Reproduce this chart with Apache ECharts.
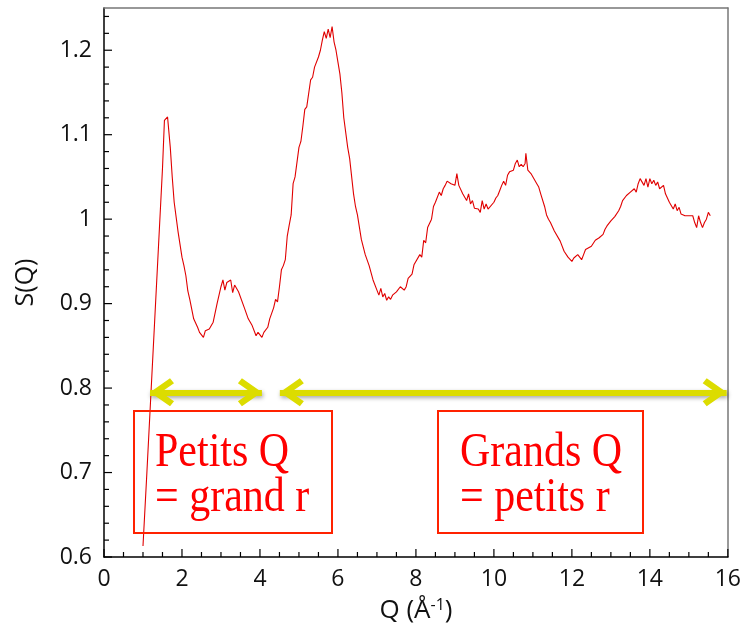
<!DOCTYPE html>
<html>
<head>
<meta charset="utf-8">
<script src="https://cdn.jsdelivr.net/npm/echarts@6/dist/echarts.min.js"></script>
<style>
  html, body { margin: 0; padding: 0; background: #fff; }
  #main { width: 744px; height: 629px; }
</style>
</head>
<body>
<div id="main"></div>
<script>
// S(Q), [Q, S]
var sq = [
  [1.00,0.613],[1.10,0.70],[1.20,0.79],[1.30,0.88],[1.40,0.97],[1.50,1.06],[1.55,1.117],[1.60,1.115],
  [1.63,1.121],[1.70,1.085],[1.75,1.05],[1.80,1.02],[1.90,0.985],[2.00,0.955],[2.05,0.945],[2.10,0.933],
  [2.15,0.915],[2.20,0.905],[2.30,0.882],[2.35,0.880],[2.40,0.872],[2.45,0.866],[2.50,0.866],[2.55,0.860],
  [2.60,0.868],[2.65,0.866],[2.70,0.870],[2.80,0.878],[2.85,0.880],[2.90,0.900],[3.00,0.920],[3.05,0.928],
  [3.10,0.916],[3.15,0.925],[3.20,0.926],[3.25,0.928],[3.30,0.913],[3.35,0.922],[3.40,0.920],[3.45,0.914],
  [3.50,0.916],[3.60,0.895],[3.70,0.882],[3.75,0.880],[3.80,0.874],[3.85,0.876],[3.90,0.862],[3.95,0.866],
  [4.00,0.864],[4.05,0.860],[4.10,0.866],[4.20,0.872],[4.25,0.882],[4.30,0.880],[4.35,0.895],[4.40,0.905],
  [4.45,0.902],[4.50,0.920],[4.55,0.940],[4.60,0.945],[4.65,0.952],[4.70,0.980],[4.75,0.993],[4.80,1.005],
  [4.85,1.042],[4.90,1.050],[5.00,1.085],[5.05,1.092],[5.10,1.110],[5.15,1.130],[5.20,1.133],[5.30,1.165],
  [5.35,1.168],[5.40,1.180],[5.50,1.192],[5.55,1.200],[5.60,1.212],[5.65,1.222],[5.70,1.214],[5.75,1.225],
  [5.80,1.215],[5.85,1.228],[5.90,1.210],[5.95,1.200],[6.00,1.186],[6.05,1.172],[6.10,1.150],[6.15,1.120],
  [6.20,1.122],[6.25,1.085],[6.30,1.072],[6.40,1.030],[6.45,1.015],[6.50,1.005],[6.60,0.976],[6.70,0.958],
  [6.80,0.945],[6.90,0.928],[7.00,0.916],[7.05,0.910],[7.10,0.918],[7.15,0.908],[7.20,0.912],[7.25,0.904],
  [7.30,0.908],[7.35,0.905],[7.40,0.910],[7.45,0.908],[7.50,0.914],[7.55,0.912],[7.60,0.920],[7.65,0.922],
  [7.70,0.916],[7.75,0.920],[7.80,0.930],[7.85,0.932],[7.90,0.935],[7.95,0.946],[8.00,0.944],[8.10,0.958],
  [8.15,0.955],[8.20,0.975],[8.25,0.972],[8.30,0.990],[8.40,1.000],[8.45,1.015],[8.50,1.020],[8.55,1.018],
  [8.60,1.032],[8.65,1.028],[8.70,1.036],[8.75,1.040],[8.80,1.045],[8.90,1.042],[9.00,1.040],[9.05,1.054],
  [9.10,1.040],[9.20,1.030],[9.30,1.022],[9.35,1.030],[9.40,1.018],[9.45,1.022],[9.50,1.013],[9.55,1.015],
  [9.60,1.012],[9.65,1.008],[9.70,1.022],[9.75,1.012],[9.80,1.018],[9.85,1.012],[9.90,1.014],[10.00,1.020],
  [10.05,1.025],[10.10,1.028],[10.15,1.034],[10.20,1.040],[10.25,1.045],[10.30,1.040],[10.35,1.052],[10.40,1.056],
  [10.45,1.054],[10.50,1.058],[10.55,1.066],[10.60,1.070],[10.65,1.062],[10.70,1.065],[10.75,1.062],[10.80,1.066],
  [10.82,1.078],[10.87,1.058],[10.95,1.054],[11.00,1.052],[11.10,1.042],[11.15,1.038],[11.20,1.030],[11.25,1.028],
  [11.30,1.015],[11.35,1.005],[11.40,1.000],[11.45,0.996],[11.50,0.994],[11.55,0.986],[11.60,0.984],[11.70,0.974],
  [11.80,0.962],[11.85,0.960],[11.90,0.955],[11.95,0.956],[12.00,0.950],[12.05,0.954],[12.10,0.956],[12.15,0.958],
  [12.20,0.955],[12.25,0.952],[12.30,0.958],[12.35,0.964],[12.40,0.962],[12.50,0.968],[12.55,0.970],[12.60,0.975],
  [12.65,0.973],[12.70,0.978],[12.80,0.982],[12.85,0.988],[12.90,0.992],[13.00,0.998],[13.10,1.003],[13.15,1.005],
  [13.20,1.010],[13.25,1.015],[13.30,1.022],[13.35,1.020],[13.40,1.028],[13.50,1.032],[13.55,1.034],[13.60,1.036],
  [13.65,1.032],[13.70,1.042],[13.75,1.048],[13.80,1.050],[13.85,1.040],[13.90,1.048],[13.95,1.038],[14.00,1.048],
  [14.05,1.042],[14.10,1.046],[14.15,1.040],[14.20,1.044],[14.25,1.036],[14.30,1.034],[14.35,1.040],[14.40,1.030],
  [14.45,1.028],[14.50,1.020],[14.55,1.022],[14.60,1.012],[14.65,1.018],[14.70,1.010],[14.75,1.014],[14.80,1.006],
  [14.85,1.008],[14.90,1.004],[15.00,1.004],[15.05,1.002],[15.10,1.004],[15.15,0.996],[15.20,0.990],[15.25,1.004],
  [15.30,0.996],[15.35,0.990],[15.40,0.996],[15.45,1.000],[15.50,1.008],[15.55,1.004]
];

// tick positions along each axis (majors are every 2 on Q, every 0.1 on S)
var qTicks = [0,0.5,1,1.5,2,2.5,3,3.5,4,4.5,5,5.5,6,6.5,7,7.5,8,8.5,9,9.5,10,10.5,11,11.5,12,12.5,13,13.5,14,14.5,15,15.5,16];
var sTicks = [0.60,0.62,0.64,0.66,0.68,0.70,0.72,0.74,0.76,0.78,0.80,0.82,0.84,0.86,0.88,0.90,0.92,0.94,0.96,0.98,
              1.00,1.02,1.04,1.06,1.08,1.10,1.12,1.14,1.16,1.18,1.20,1.22,1.24];

// yellow double arrows: [Q start, Q end] at S = arrowY
var arrowY = 0.795;
var arrowSpans = [[1.18, 4.05], [4.51, 15.97]];

var boxTexts = [['Petits Q', '= grand r'], ['Grands Q', '= petits r']];

// open chevron, apex at the centre of its box so it sits on the line end
var chevron = 'path://M0,0 L14,20 L9,24 L0,11 L-9,24 L-14,20 Z M-0.1,-24 L0.1,-24 L0,-23.9 Z';

var chart = echarts.init(document.getElementById('main'));

var axisFont = { fontFamily: 'Open Sans', fontSize: 23, color: '#111' };
var serif = '42px "Liberation Serif"';

function isMajor(v, step) { return Math.abs(v / step - Math.round(v / step)) < 1e-6; }

function boxLine(x, y, txt) {
  return { type: 'text', x: x, y: y, scaleY: 1.15, z: 20,
    style: { text: txt, font: serif, fill: '#ff0000', verticalAlign: 'middle' } };
}

// plain grey frame line for the top and right sides
function frameAxis(extra) {
  return Object.assign({
    type: 'value',
    axisLine: { show: true, onZero: false, lineStyle: { color: '#777', width: 1.5 } },
    axisTick: { show: false }, axisLabel: { show: false }, splitLine: { show: false }
  }, extra);
}

var option = {
  animation: false,
  grid: { left: 104, top: 8, right: 16, bottom: 68 },
  xAxis: [{
    type: 'value', min: 0, max: 16, interval: 2,
    name: 'Q (Å{sup|-1})', nameLocation: 'middle', nameGap: 40,
    nameTextStyle: {
      fontFamily: 'Open Sans', fontSize: 26, color: '#111',
      rich: { sup: { fontFamily: 'Open Sans', fontSize: 16, color: '#111', verticalAlign: 'top', padding: [0, 0, 12, 0] } }
    },
    axisLine: { show: true, onZero: false, lineStyle: { color: '#000', width: 1.5 } },
    axisTick: { show: false },
    splitLine: { show: false },
    axisLabel: Object.assign({ margin: 11 }, axisFont)
  }, frameAxis({ position: 'top', min: 0, max: 16 })],
  yAxis: [{
    type: 'value', min: 0.6, max: 1.25, interval: 0.1,
    name: 'S(Q)', nameLocation: 'middle', nameGap: 66,
    nameTextStyle: { fontFamily: 'Open Sans', fontSize: 25, color: '#111' },
    axisLine: { show: true, onZero: false, lineStyle: { color: '#000', width: 1.5 } },
    axisTick: { show: false },
    splitLine: { show: false },
    axisLabel: Object.assign({
      margin: 12, showMaxLabel: false,
      formatter: function (v) { return isMajor(v, 0.1) ? String(+v.toFixed(1)) : ''; }
    }, axisFont)
  }, frameAxis({ position: 'right', min: 0.6, max: 1.25 })],
  series: [{
    type: 'line',
    data: sq,
    showSymbol: false,
    lineStyle: { color: '#e00000', width: 1.1 },
    markLine: {
      silent: true,
      symbol: [chevron, chevron],
      symbolSize: [28, 48],
      label: { show: false },
      lineStyle: {
        color: '#dcdc00', width: 6, type: 'solid',
        shadowColor: 'rgba(0,0,0,0.35)', shadowBlur: 4, shadowOffsetX: 1, shadowOffsetY: 2
      },
      data: arrowSpans.map(function (s) {
        return [{ coord: [s[0], arrowY] }, { coord: [s[1], arrowY] }];
      })
    }
  }]
};

chart.setOption(option);

// text boxes, plus inward ticks placed through the axes' own scales
var finder = { xAxisIndex: 0, yAxisIndex: 0 };
var graphics = [
  { type: 'rect', z: 20, shape: { x: 134, y: 411, width: 198, height: 122 },
    style: { fill: 'rgba(0,0,0,0)', stroke: '#ff2200', lineWidth: 2 } },
  { type: 'rect', z: 20, shape: { x: 438, y: 411, width: 205, height: 122 },
    style: { fill: 'rgba(0,0,0,0)', stroke: '#ff2200', lineWidth: 2 } },
  boxLine(155, 453, boxTexts[0][0]),
  boxLine(155, 498, boxTexts[0][1]),
  boxLine(460, 453, boxTexts[1][0]),
  boxLine(460, 498, boxTexts[1][1])
];
qTicks.forEach(function (v) {
  var p = chart.convertToPixel(finder, [v, 0.6]);
  var len = isMajor(v, 2) ? 8 : 5;
  graphics.push({ type: 'line', z: 20, silent: true,
    shape: { x1: p[0], y1: p[1], x2: p[0], y2: p[1] - len }, style: { stroke: '#000', lineWidth: 1.2 } });
});
sTicks.forEach(function (v) {
  var p = chart.convertToPixel(finder, [0, v]);
  var len = isMajor(v, 0.1) ? 8 : 5;
  graphics.push({ type: 'line', z: 20, silent: true,
    shape: { x1: p[0], y1: p[1], x2: p[0] + len, y2: p[1] }, style: { stroke: '#000', lineWidth: 1.2 } });
});
chart.setOption({ graphic: graphics });
</script>
</body>
</html>
